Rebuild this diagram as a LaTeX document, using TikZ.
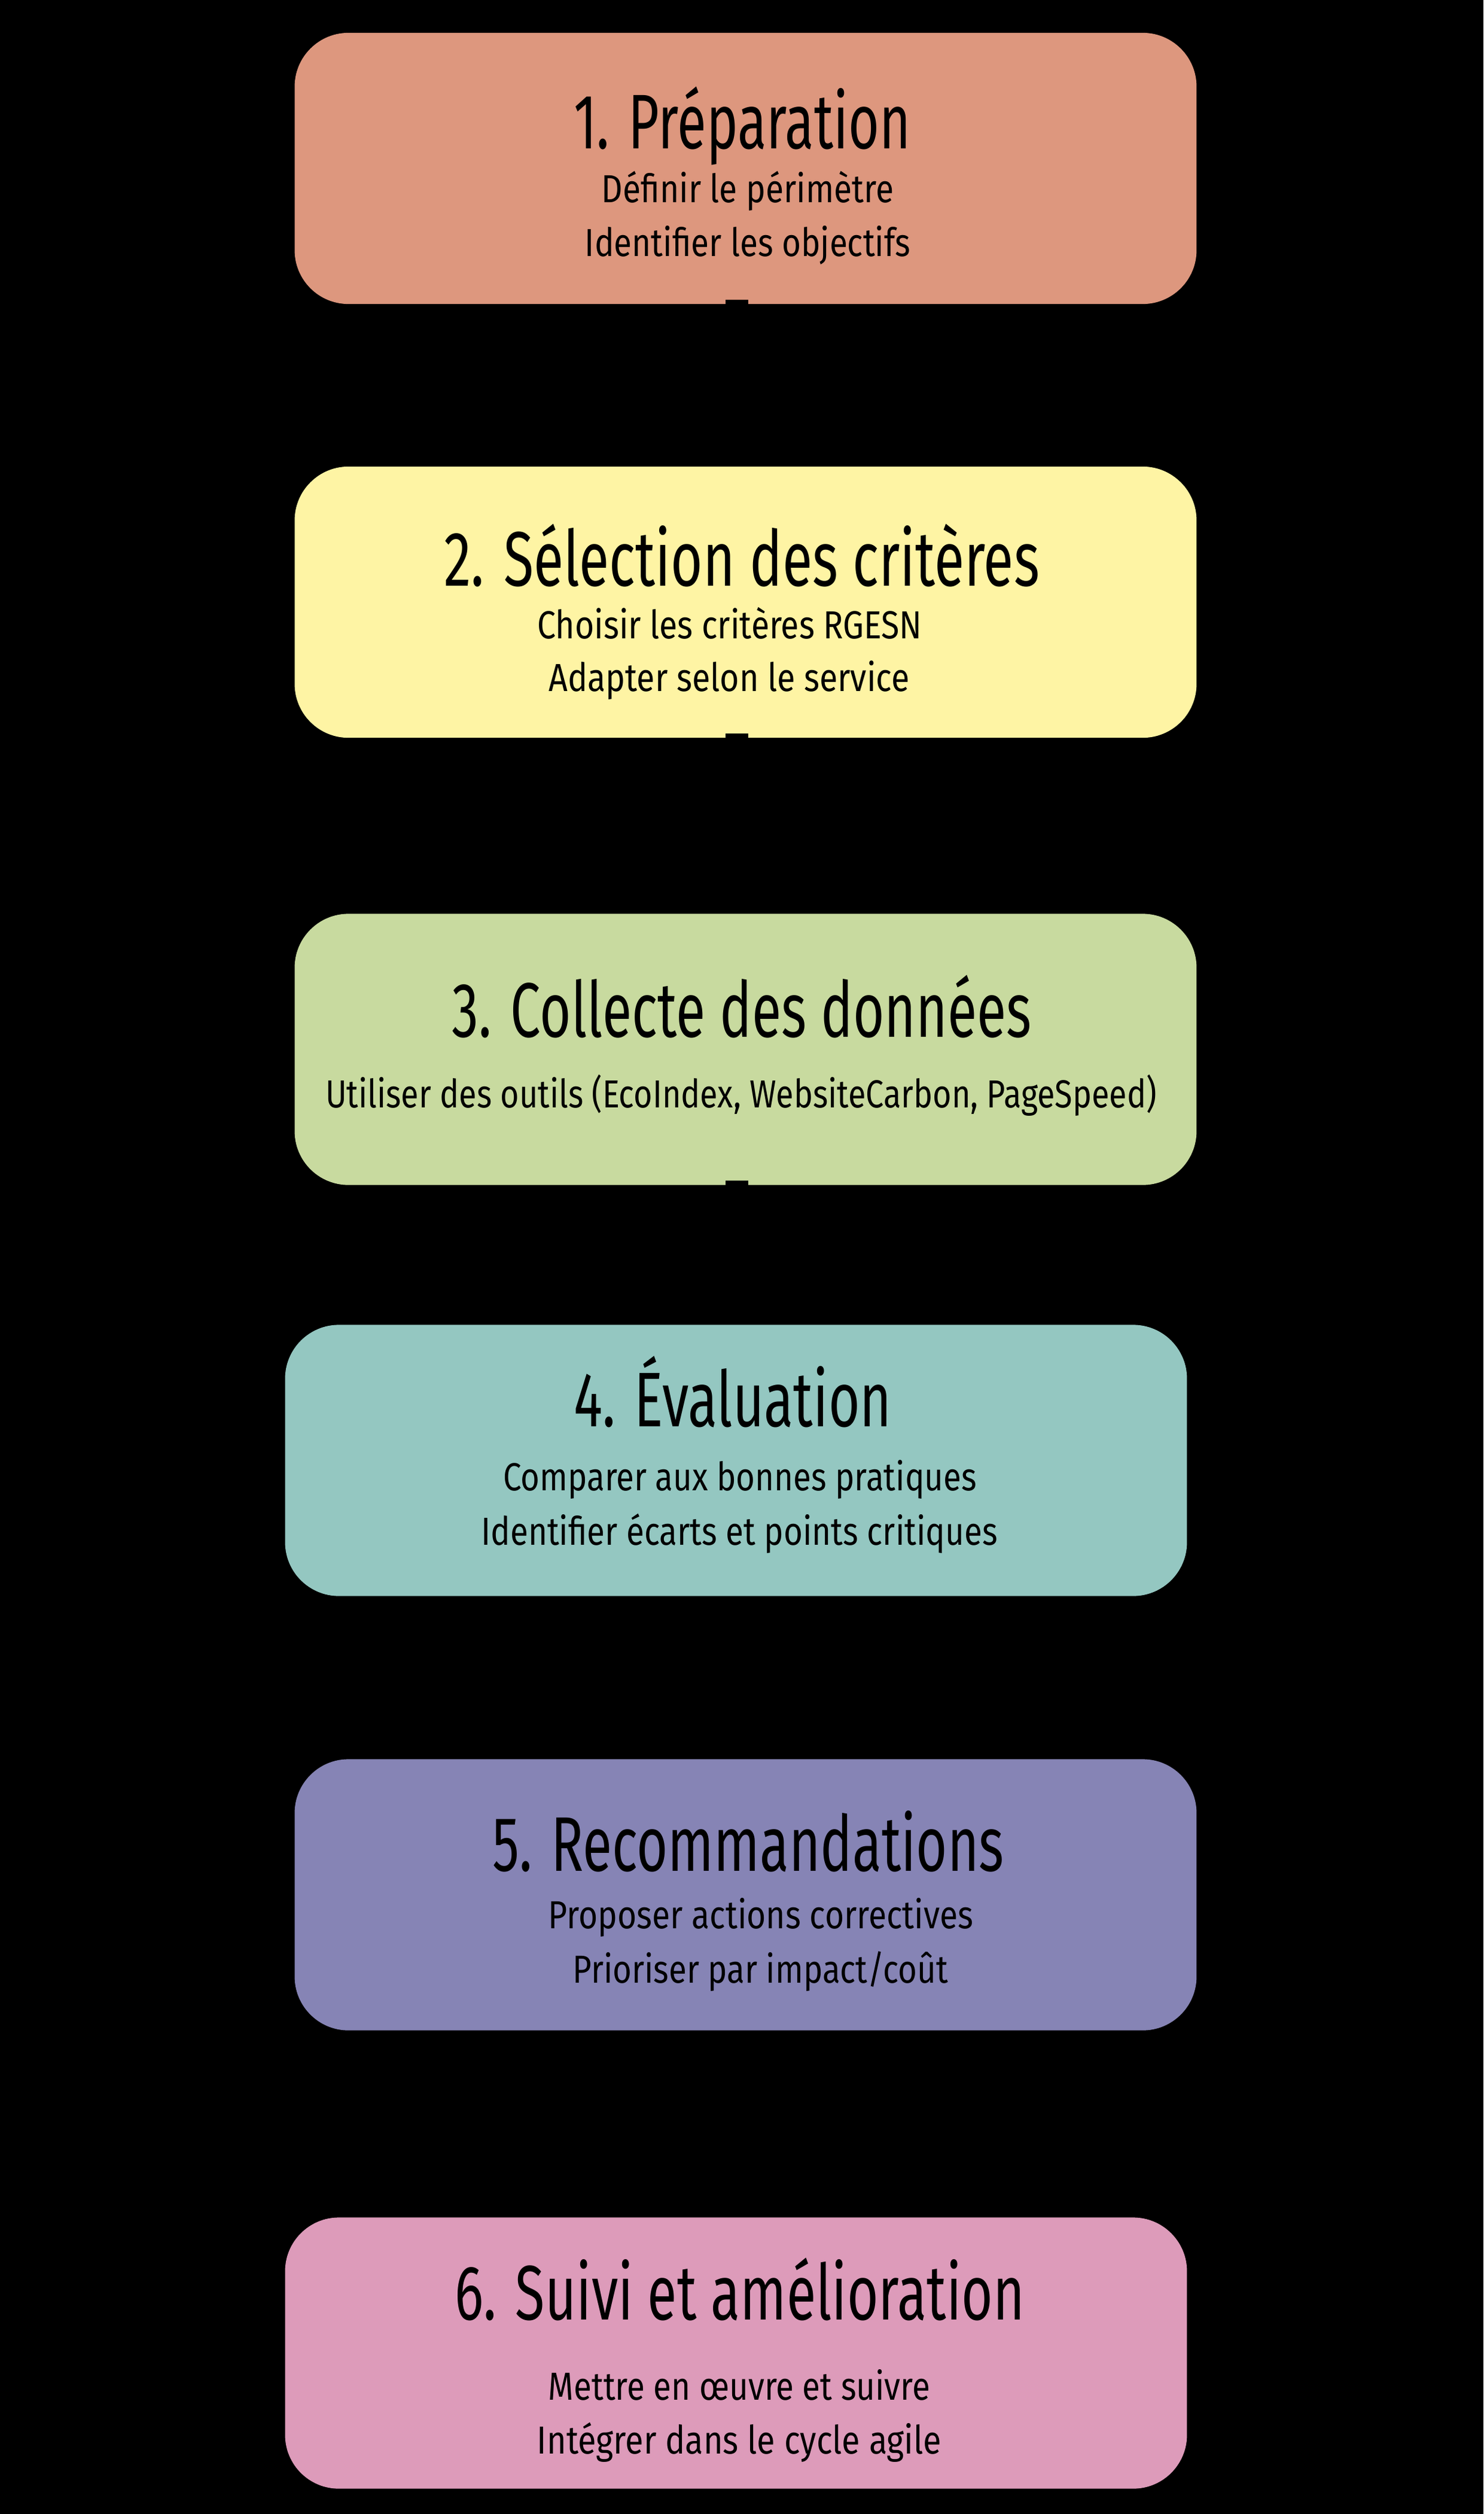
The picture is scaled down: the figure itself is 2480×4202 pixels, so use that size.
\documentclass[tikz,border=0pt]{standalone}
\usepackage{fontspec}
\setmainfont{Fira Sans}
\usetikzlibrary{arrows.meta}
\definecolor{cone}{HTML}{DD977E}
\definecolor{ctwo}{HTML}{FEF4A4}
\definecolor{cthree}{HTML}{C8DA9F}
\definecolor{cfour}{HTML}{94C7C1}
\definecolor{cfive}{HTML}{8684B5}
\definecolor{csix}{HTML}{DD9BBA}
\definecolor{cline}{HTML}{000000}
\newcommand\fitw[2]{\resizebox{#1}{\height}{#2}}
\tikzset{
  stepbox/.style={rectangle, rounded corners=0.9cm, draw=none, inner sep=0pt,
    minimum width=15.07cm, minimum height=4.53cm},
  ttl/.style={anchor=base, inner sep=0pt, font=\fontsize{36.8pt}{40pt}\selectfont, text=black},
  sub/.style={anchor=base, inner sep=0pt, font=\fontsize{18.6pt}{22pt}\selectfont, text=black},
  conn/.style={draw=cline, line width=10.8pt, -{Triangle[length=28pt,width=34pt]}}
}
\begin{document}
\begin{tikzpicture}[x=0.01cm,y=-0.01cm]
\fill[black] (0,0) rectangle (2480,4202);
\useasboundingbox (0,0) rectangle (2480,4202);
% boxes
\node[stepbox, fill=cone]   (b1) at (1246.5,281.5) {};
\node[stepbox, fill=ctwo]   (b2) at (1246.5,1006.5) {};
\node[stepbox, fill=cthree] (b3) at (1246.5,1754) {};
\node[stepbox, fill=cfour]  (b4) at (1230.5,2441) {};
\node[stepbox, fill=cfive]  (b5) at (1246.5,3167) {};
\node[stepbox, fill=csix]   (b6) at (1230.5,3933) {};
% connectors
\draw[conn] ([xshift=-0.145cm,yshift=0.08cm]b1.south) -- ([xshift=-0.145cm]b2.north);
\draw[conn] ([xshift=-0.145cm,yshift=0.08cm]b2.south) -- ([xshift=-0.145cm]b3.north);
\draw[conn] ([xshift=-0.145cm,yshift=0.08cm]b3.south) -- ([xshift=0.015cm]b4.north);
\draw[conn] ([xshift=0.015cm]b4.south) -- ([xshift=-0.145cm]b5.north);
\draw[conn] ([xshift=-0.145cm]b5.south) -- ([xshift=0.015cm]b6.north);
% texts
\node[ttl] (t1) at (1241,248) {\fitw{5.63cm}{1. Préparation}};
\node[sub] (s1a) at (1250,338) {\fitw{4.88cm}{Définir le périmètre}};
\node[sub] (s1b) at (1250,428) {\fitw{5.44cm}{Identifier les objectifs}};
\node[ttl] (t2) at (1240,979) {\fitw{9.95cm}{2. Sélection des critères}};
\node[sub] (s2a) at (1220,1067) {\fitw{6.43cm}{Choisir les critères RGESN}};
\node[sub] (s2b) at (1219,1155) {\fitw{6.03cm}{Adapter selon le service}};
\node[ttl] (t3) at (1240,1733) {\fitw{9.68cm}{3. Collecte des données}};
\node[sub] (s3a) at (1239,1851) {\fitw{13.89cm}{Utiliser des outils (EcoIndex, WebsiteCarbon, PageSpeed)}};
\node[ttl] (t4) at (1225,2384) {\fitw{5.31cm}{4. Évaluation}};
\node[sub] (s4a) at (1237,2491) {\fitw{7.91cm}{Comparer aux bonnes pratiques}};
\node[sub] (s4b) at (1236,2582) {\fitw{8.63cm}{Identifier écarts et points critiques}};
\node[ttl] (t5) at (1251,3127) {\fitw{8.55cm}{5. Recommandations}};
\node[sub] (s5a) at (1272,3223) {\fitw{7.10cm}{Proposer actions correctives}};
\node[sub] (s5b) at (1271,3314) {\fitw{6.27cm}{Prioriser par impact/coût}};
\node[ttl] (t6) at (1237,3877) {\fitw{9.52cm}{6. Suivi et amélioration}};
\node[sub] (s6a) at (1236,4011) {\fitw{6.38cm}{Mettre en œuvre et suivre}};
\node[sub] (s6b) at (1236,4101) {\fitw{6.76cm}{Intégrer dans le cycle agile}};
\end{tikzpicture}
\end{document}
